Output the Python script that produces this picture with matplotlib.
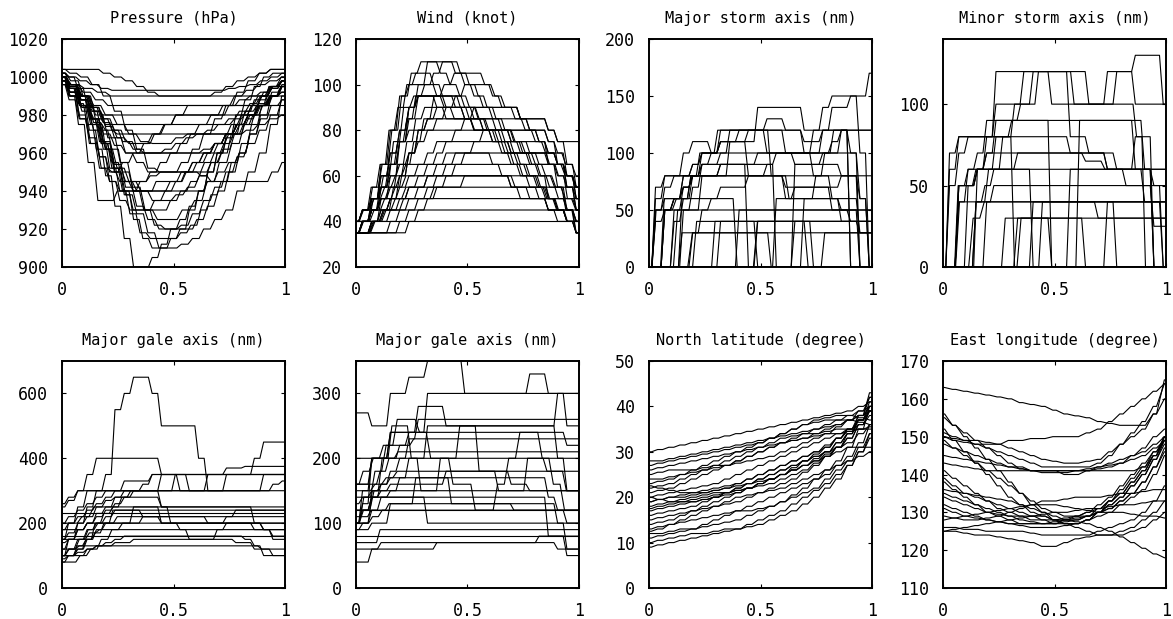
import numpy as np
import matplotlib
matplotlib.use("Agg")
import matplotlib.pyplot as plt

# ---------------------------------------------------------------- data
# Each typhoon record is sampled at regular reports over a lifetime
# normalised to 0..1; values are the reported (quantised) figures.

PRESSURE = [
    [1002,1000,994,985,975,962,950,938,925,915,910,910,915,920,930,940,950,960,970,980,988,995,1000,1002,1002],
    [1000,990,975,955,935,935,940,940,940,940,945,945,945,950,950,955,960,965,970,975,980,985,990,995],
    [998,994,986,975,962,948,932,915,900,900,905,912,920,925,932,940,950,960,968,975,982,988,992,995,995],
    [1004,1004,1004,1004,1002,1000,998,995,992,990,990,990,990,990,992,995,998,1000,1002,1004,1004],
    [1000,996,990,984,978,972,966,960,960,960,960,960,960,962,965,970,975,980,988,995,998],
    [996,990,984,978,975,975,975,975,975,975,975,975,975,975,975,978,982,986,990,995],
    [1000,995,988,978,965,952,940,930,930,935,940,945,950,955,960,965,970,975,980,985,990,995],
    [1000,996,994,992,990,990,990,990,990,990,990,990,990,990,990,990,990,990],
    [998,992,985,975,965,955,945,940,940,940,940,940,940,940,945,950,955,960,970,978,985,988],
    [1000,994,985,972,958,945,935,930,930,930,930,935,940,945,950,955,960,970,980,985,990,995,998],
    [1000,996,990,984,976,968,960,955,950,950,950,950,955,960,965,970,975,980,985,990,992],
    [1002,996,988,982,980,980,980,980,980,980,980,980,980,980,980,980,980,980,980,980,980],
    [1000,996,992,988,985,985,985,985,985,985,985,985,985,985,985,985,985,985,985],
    [998,994,988,978,966,952,940,928,918,915,915,915,918,922,930,938,945,955,965,975,985,992,996],
    [1000,996,990,984,978,972,966,962,960,960,962,965,968,970,972,975,978,982,986,990,994,998],
    [1004,1002,1000,996,990,982,972,962,952,950,950,955,962,970,978,985,992,998,1002,1004,1004],
    [998,992,984,976,972,970,970,970,970,970,970,970,970,970,970,970,972,975,978,980],
    [1000,992,980,965,952,945,940,940,945,948,950,950,950,950,948,945,945,945,945,945,945,950,955],
    [1000,996,990,982,972,962,950,940,930,922,920,920,920,925,932,940,950,960,970,980,990,995],
    [996,990,982,972,962,952,945,940,935,935,938,942,948,955,962,970,978,985,990,995],
    [1002,1000,998,996,994,993,993,993,993,993,993,993,993,993,993,993,994,995,996,998,1000,1002],
    [1000,995,988,978,966,954,942,932,925,920,920,922,928,935,942,950,958,965,972,980,988],
    [1000,995,988,978,965,952,945,940,940,940,945,950,955,960,965,970,975,980,985,990,992],
    [998,992,985,978,970,964,960,960,960,960,960,960,960,960,965,970,975,980,985,990,995],
    [1000,996,990,982,974,968,965,965,970,975,980,985,985,985,985,985,985,990,995,998],
    [996,988,978,968,958,950,945,945,945,950,955,960,965,970,970,970,970,975,980,985,990,994,998],
    [1002,998,990,980,968,955,942,930,925,925,930,935,945,955,965,975,985,995,1000],
    [1000,990,978,965,952,950,955,960,965,970,975,980,980,980,980,980,985,988,990,992,995,998],
    [998,994,990,985,980,975,970,966,965,965,968,970,975,980,985,990,993,996,998,1000],
    [1000,994,985,975,962,950,938,928,918,910,910,912,915,920,925,930,940,950,960,975,990],
]

WIND = [
    [35,40,50,65,80,95,100,100,100,95,95,90,85,80,80,80,80,75,75,70,70,65,60,55,50],
    [35,35,40,50,60,75,90,100,110,110,110,105,100,95,90,85,80,75,70,65,60,50,45,40,35],
    [40,45,55,65,80,95,105,110,110,105,100,95,90,85,80,75,70,65,60,55,50,45,45,40],
    [35,40,50,60,75,90,95,95,95,90,85,85,80,80,80,80,75,70,65,60,55,45,35],
    [40,45,50,55,60,65,70,75,80,85,90,95,100,100,100,95,90,90,85,85,85,80,75,75,75],
    [35,40,45,45,50,50,55,55,60,60,65,70,70,70,70,65,60,55,55,50,50,45,40,40,40],
    [40,40,40,40,40,40,40,40,40,40,40,40,40,40,40,40,40,40,40],
    [35,35,40,45,45,45,45,45,45,45,45,45,45,45,45,45,45,45,45,45,45],
    [35,40,45,50,50,50,50,50,50,50,50,50,50,50,50,50,50,50,50,50,50,50,50,45,40],
    [35,35,40,45,50,55,55,55,55,55,55,55,55,55,55,55,55,55,55,55,55,55],
    [40,45,50,55,60,65,65,65,65,65,65,65,65,65,65,65,65,65,65,65,60,55],
    [35,35,35,35,40,45,50,55,60,65,70,70,70,70,70,70,70,70,70,70,70,70,65,60,50],
    [35,40,45,55,65,75,80,80,80,80,80,80,80,80,80,80,80,80,80,80,75,70,65,55,45],
    [35,35,40,45,50,60,70,80,85,90,90,90,90,90,90,90,90,90,85,80,75,65,55,45,35],
    [40,45,50,60,70,80,90,95,95,95,95,95,90,85,80,75,70,65,60,55,50,45,45,40,40],
    [35,35,40,45,55,65,75,85,95,100,105,105,105,100,95,90,85,80,75,70,70,65,60],
    [35,40,45,50,55,60,60,60,60,60,60,60,60,60,60,60,60,60,60,55,50,45],
    [40,40,45,50,55,60,70,80,85,85,85,85,85,85,85,85,85,85,85,85,85,80,75,65,55],
    [35,35,40,45,50,55,60,65,70,75,75,75,75,75,75,75,75,75,75,75,75,70,65,60,55],
    [35,40,45,55,65,75,85,95,100,105,110,110,105,100,95,90,85,80,75,70,65,60,55,50,45,40],
    [40,45,50,55,65,75,85,95,95,95,90,90,85,85,80,80,80,80,80,80,80,75,65,55,45],
    [35,40,45,50,55,65,75,85,90,90,90,90,90,90,85,85,80,75,70,70,70,70,65,60,50,45],
    [35,35,35,35,35,40,45,50,55,60,60,60,60,60,60,60,60,55,50,50,50,45,45,40,35],
    [40,45,55,65,80,90,100,105,105,100,95,95,90,85,85,80,75,70,65,60,60,55,50,45,40,40],
    [35,35,40,40,45,50,55,60,65,70,75,80,85,90,90,90,90,90,85,80,80,75,70,60,50],
    [35,35,35,35,35,35,40,45,50,55,60,65,70,75,80,80,75,70,65,60,55,50,45,40,35],
    [40,40,40,45,45,50,50,50,55,55,55,60,60,60,60,60,55,55,55,50,50,50,50],
    [35,40,50,60,70,80,90,95,95,90,85,85,85,80,80,75,75,70,70,70,65,65,65,60,55],
]

STORM_MAJOR = [
    [0,50,70,80,100,110,110,100,100,120,120,120,120,130,130,120,120,100,100,120,140,140,150,150,170],
    [0,0,50,60,80,90,100,100,120,120,120,120,120,100,100,100,100,100,100,100,100,120,120,120,120],
    [0,0,0,50,50,50,50,50,50,50,50,50,50,50,50,50,50,50,50,50,50,50],
    [0,0,60,60,60,80,80,80,80,80,80,80,80,80,80,80,80,80,80,80,80,80,80,80,80,80],
    [0,0,0,0,30,30,30,30,30,30,30,30,30,30,30,30,30,30,30,30],
    [0,0,50,60,70,80,90,90,90,90,90,90,90,90,0,0,90,90,90,90,90,80,80,60,0],
    [0,0,0,0,0,0,0,0,40,40,40,40,40,40,40,40,40,40,40,40,40,40,40,40,40,40,40],
    [0,70,80,80,80,80,80,80,80,80,80,80,80,80,80,70,70,70,70,70,70,80,80,0,0],
    [0,0,0,40,60,80,100,100,110,110,110,120,120,120,120,120,120,110,110,120,120,120,0,0,0],
    [0,0,0,0,0,30,50,60,70,70,70,80,80,90,100,100,100,100,100,100,100,100,100,60,0],
    [0,0,0,0,0,0,0,0,0,0,0,0,0,0,0,0,0,0,0,0],
    [0,50,50,60,60,60,60,60,60,0,0,40,40,40,40,40,40,40,40,40,40,40,40],
    [0,0,0,0,60,80,100,100,120,120,120,120,120,120,80,80,60,60,60,80,100,120,120,120,120,120],
    [0,0,0,0,0,0,0,0,0,0,50,50,50,50,50,50,50,50,50,50,50,50,50,50,50],
    [0,60,80,80,80,80,90,90,100,100,100,100,100,100,100,100,100,100,120,120,120,120,100,0,0],
    [0,0,0,0,0,40,40,40,40,40,40,40,40,40,40,40,0,0,0,0,0,0,0],
    [0,0,50,50,70,80,80,80,90,90,90,0,0,0,60,60,70,70,70,70,50,50,40,40,40],
    [0,0,0,0,0,0,0,0,40,40,40,40,0,0,0,0,40,40,40,40,40,40,40,30,30],
    [0,0,0,50,50,70,90,100,110,110,110,110,140,140,140,140,140,120,120,140,150,150,150,100,0],
    [0,0,0,0,0,0,0,0,0,0,0,0,0,0,0,0,0,60,60,60,60,60,60,30,30],
    [0,40,50,60,80,90,100,100,110,110,120,120,120,120,120,100,90,90,90,100,110,120,0,0,0],
    [0,0,0,0,0,0,0,0,0,0,0,0,40,40,40,40,40,40,0,0,0,0,0,0,0],
    [0,0,0,0,30,30,30,30,30,30,30,30,30,30,0,0,0,0,0,0,30,30,30,30,30,30],
    [0,50,60,60,70,80,80,80,80,110,110,80,80,80,80,60,60,60,60,60,60,40,40,40,40],
    [0,0,0,0,50,50,80,80,90,90,90,90,100,100,100,100,100,100,80,80,60,50,50,0,0],
]

STORM_MINOR = [
    [0,50,70,80,80,80,120,120,120,120,120,120,100,100,100,100,100,100,100,120,120,130,130,130,100],
    [0,0,40,60,70,90,90,90,90,90,90,90,90,90,90,90,90,90,90,90,90,90,60,0,0],
    [0,0,0,30,40,40,40,40,40,40,40,40,40,40,40,40,40,40,40,40,40],
    [0,0,50,50,60,60,60,60,60,60,60,60,60,60,60,60,60,60,60,60,60,60,60,60,60,60],
    [0,0,0,0,0,40,40,40,40,40,40,40,40,40,40,40,40,30,30,30,30,30,30,30,30],
    [0,60,80,80,80,80,80,80,80,80,80,80,80,80,70,70,70,70,60,60,60,80,80,0,0],
    [0,0,0,50,60,80,100,100,100,120,120,120,120,120,120,120,100,100,120,120,120,100,100,100,100],
    [0,0,0,0,0,0,0,0,30,30,30,30,30,30,30,30,30,30,30,30,30,30,30],
    [0,0,50,60,60,70,70,70,70,70,70,70,70,70,70,70,70,70,70,60,60,60,60,50,0],
    [0,0,0,0,40,40,50,50,50,50,50,50,50,50,50,50,50,50,50,50,50,50,50,50,50,50],
    [0,0,0,0,0,0,0,0,0,0,0,0,0,0,0,0,0,0,0,0],
    [0,0,0,0,60,70,90,90,90,90,90,90,0,0,0,90,90,90,90,90,90,60,60,0,0],
    [0,70,80,80,80,80,80,80,0,0,0,40,40,40,40,40,40,40,40,40,40,40,40,40,40],
    [0,0,40,40,40,60,60,60,70,70,70,70,70,70,70,65,65,60,60,60,60,60,60,60],
    [0,0,0,0,0,0,0,30,30,30,30,30,0,0,0,0,0,0,0,0,0,0,0,0,0],
    [0,0,50,50,60,60,80,80,100,100,120,120,120,120,80,80,70,70,60,60,50,50,50,25,25],
    [0,0,0,0,0,0,0,0,0,0,40,40,40,40,40,40,40,40,40,0,0,0,0,0,0],
    [0,0,0,0,0,0,0,0,0,0,0,0,0,0,0,0,0,0,40,40,40,40,40,40,40],
    [0,0,50,50,60,60,60,60,60,60,0,0,0,0,60,60,60,60,60,60,60,60,40,40,0],
    [0,0,0,0,0,0,0,0,30,30,30,30,30,30,30,0,0,0,0,0,0,0,0,0],
    [0,0,0,0,40,50,60,80,90,100,100,120,120,120,120,100,100,100,100,100,100,100,80,0,0,0],
]

GALE_MAJOR_A = [
    [100,150,200,250,300,350,550,600,650,650,600,500,500,500,500,400,300,300,300,300,300,300,300,300,300],
    [250,270,300,350,400,400,400,400,400,400,400,350,350,350,300,300,300,300,350,350,350,400,450,450,450],
    [200,200,220,250,250,250,250,250,250,250,250,250,250,250,250,250,250,250,250,250],
    [150,200,250,300,300,300,300,300,300,300,300,300,300,300,300,300,300,300,300,300,300,300,350,350,350],
    [100,100,120,150,200,230,250,280,300,300,300,300,300,350,350,350,350,350,350,350,350,350,350,350,350,350],
    [80,80,100,120,150,180,200,200,200,200,200,200,200,200,200,200,200,200,200,200,200,200],
    [150,150,150,180,200,200,220,220,220,220,220,220,220,220,220,220,220,220,220,220,220,220,220,220],
    [120,150,180,200,230,250,280,280,280,280,280,250,250,250,250,250,250,250,250,250,250,200,180,150,150],
    [100,100,100,120,130,130,140,140,150,150,150,150,150,150,150,150,150,150,150,140,140,120,120,100,100],
    [200,220,240,260,280,300,300,330,330,330,350,350,350,350,350,350,350,350,370,370,375,375,375,375,375],
    [80,100,120,150,180,200,200,200,250,250,250,200,200,180,150,150,150,180,200,200,200,200,180,160,160],
    [160,160,160,160,160,160,160,160,160,160,160,160,160,160,160,160,160,160,160],
    [230,230,230,230,230,230,230,230,230,230,230,230,230,230,230,230,230,230,230,230,230],
    [90,100,130,150,170,200,240,240,240,240,240,240,240,240,240,240,240,240,240,240,240,240,240,240,240,240],
    [100,120,150,170,180,180,180,180,180,180,180,180,180,180,180,180,180,180,180,180,180,180,180],
    [260,280,300,300,300,300,300,300,300,300,300,300,300,300,300,300,300,300,300,300,300,300,300,320,330],
    [120,120,130,130,130,130,130,130,130,130,130,130,130,130,130,130,130,130,130,130,120,120,120],
    [180,200,220,240,260,280,300,300,300,300,300,250,200,200,200,200,200,200,200,200,200,200,200,200,200],
    [100,100,110,120,130,140,150,160,160,160,160,160,160,160,160,160,160,160,160,160,150,130,100,100,100],
    [140,150,180,200,220,240,260,280,300,320,350,350,350,350,350,350,350,350,350,350,350,350,350,350,350],
    [150,170,200,220,250,270,280,300,300,300,300,350,350,300,300,300,350,350,350,350,350,350,350,350,350],
    [100,120,150,180,200,220,240,240,240,220,220,200,200,200,200,200,200,200,220,240,240,240,240,240,240],
    [180,180,180,200,200,200,200,200,200,220,220,220,220,220,220,220,200,200,200,200,200,180,180,180,180],
]

GALE_MAJOR_B = [
    [270,270,250,250,300,300,325,325,350,350,350,350,300,300,300,300,300,300,300,300,300,300,300,300,300],
    [40,40,60,60,60,60,60,60,60,70,70,70,70,70,70,70,70,70,70,70,80,80,80,80,80],
    [100,150,200,200,240,240,240,240,300,300,300,300,300,300,300,300,300,300,300,330,330,300,300,250,250],
    [100,120,150,150,150,150,150,150,150,150,150,150,150,150,150,150,150,150,150,150,150,150],
    [80,80,80,80,80,80,80,80,80,80,80,80,80,80,80,80,80,80,80,80],
    [120,120,120,120,120,120,120,120,120,120,120,120,120,120,120,120,120,120,120,120,120,120,120],
    [160,160,160,180,200,210,210,210,210,210,210,210,210,210,210,210,210,210,210,210,210,210,210,210,210,210],
    [90,90,100,100,130,130,130,130,130,130,130,130,130,130,130,130,130,130,130,130,130,130,100,100,100],
    [60,60,60,70,70,70,70,70,70,70,70,70,70,70,70,70,70,70,70,70,70,70,60,60,60],
    [100,130,200,200,200,220,240,240,240,240,240,240,240,240,240,240,240,240,240,240,240,240,240,220,220],
    [150,150,160,170,180,180,180,180,180,180,180,180,180,180,180,180,180,180,180,180,180],
    [100,100,120,140,150,170,200,200,250,250,250,250,250,250,250,250,250,250,250,250,250,250,200,150,150],
    [130,140,150,160,170,170,170,170,170,170,170,170,170,170,170,170,170,170,170,170,170,140,120,100,100],
    [90,100,110,120,120,120,120,120,120,120,120,120,120,120,120,120,120,120,120,120,120,120,120,120],
    [160,180,200,200,200,200,200,200,200,200,200,200,200,200,200,200,200,200,200,200,200,200,200],
    [70,70,70,90,90,90,90,90,90,90,90,90,90,90,90,90,90,90,90,90,90,90,90,90,90,90],
    [100,100,140,140,140,140,140,140,140,140,140,140,140,140,140,140,140,140,140,140,140,80,80,50,50],
    [100,120,140,160,180,200,230,260,260,260,260,260,260,260,260,260,260,260,260,260,260,260,260,260,260],
    [140,140,140,140,140,140,140,140,100,100,100,100,100,100,100,100,100,100,100,100,100,100,100,60,60],
    [200,200,200,220,220,220,230,230,230,230,230,230,230,230,230,230,230,230,230,230,230,230,230],
    [160,160,200,200,240,240,240,280,280,280,250,250,250,250,250,250,250,250,250,250,250,250,300,300,300],
    [120,120,140,150,160,160,160,160,160,160,180,180,180,180,180,180,180,160,160,150,150,150,150,150,150],
    [110,110,120,120,130,130,130,170,170,170,170,130,130,130,130,130,130,130,120,120,120,120,120,120,120,120],
    [120,120,150,200,250,250,200,150,150,200,200,250,250,180,180,150,150,150,200,200,180,180,150,150],
    [100,140,180,220,260,260,240,200,200,160,160,120,120,160,200,240,240,200,160,120,120],
]

LATITUDE = [
    [30,30.5,31,31.5,32,32.5,33,33.5,34,34.5,35,35.5,36,36.5,37,37.5,38,38.5,39,40,41],
    [9,9.5,10,10.5,11,11.5,12,12.5,13,14,15,16,17,18.5,20,21.5,23,25,27,30,33],
    [12,12,12.5,13,13,13.5,14,14.5,15,16,17,18,19,20.5,22,24,26,28,31,35,40],
    [17,17.5,18,18.5,19,19.5,20,21,22,23,24,25,26,27,28,29,30,32,34,37,40],
    [22,22.5,23,24,25,26,27,28,29,30,31,32,33,33.5,34,34,34.5,35,35,35,35],
    [25,25.5,26,26,26,26.5,27,27,28,29,30,31,32,33,34,35,36,37,38,39,40],
    [15,15.5,16,16.5,17,17.5,18,18.5,19,20,21,22,23,24,25.5,27,29,31,34,38,43],
    [19,19.5,20,20.5,21,21.5,22,22.5,23,24,25,26,27,28,29,30,31,33,35,38,42],
    [11,11.5,12,12.5,13,14,15,16,17,18,19,20,21,22,23,24,25,27,29,32,36],
    [23,23.5,24,25,26,27,28,29,30,31,32,33,34,35,36,37,37.5,38,38,37.5,37],
    [27,27.5,28,28.5,29,29.5,30,30.5,31,31.5,32,33,34,35,36,36.5,37,37,37,36.5,36],
    [18,18.5,19,19.5,20,20.5,21,21,21.5,22,22.5,23,24,25,26,27.5,29,31,33,36,39],
    [13,13.5,14,14.5,15,15.5,16,16.5,17,17,17.5,18,19,20,21,22,24,26,28,31,34],
    [20,20.5,21,21.5,22,22.5,23,24,25,26,27,28,29,30,31,32,33,34,35,37,39],
    [16,16.5,17,17.5,18,19,20,21,22,23,24,25,26,27,28,29,30,31,32,34,36],
    [24,24,24.5,25,25.5,26,26.5,27,27.5,28,28.5,29,30,31,32,33,34,35.5,37,39,42],
    [10,10.5,11,11.5,12,12,12.5,13,13,13.5,14,15,16,17,18.5,20,22,24,27,30,34],
    [21,21.5,22,23,24,25,26,27,28,29,30,31,32,32.5,33,33.5,34,34,34.5,35,35.5],
    [14,14.5,15,16,17,18,19,20,21,22,23,24,25,26,27,28,29,30,31,31,31],
    [28,28,28.5,29,29.5,30,30.5,31,31.5,32,32.5,33,33.5,34,34.5,35,35.5,36,37,38,40],
    [17.5,18,18.5,19,19.5,20,20.5,21,21.5,22,23,24,25,26,27,28,29.5,31,33,36,39],
    [12.5,13,14,15,16,17,18,19,20,20.5,21,21.5,22,23,24,25,26,27,28,29,30],
    [19,19.5,20,20,20.5,21,21.5,22,22.5,23,23.5,24,25,26,27,28.5,30,32,34,37,41],
    [26,26.5,27,27.5,28,28.5,29,29.5,30,30.5,31,31.5,32,32.5,33,34,35,36,37,38,39],
    [20,19.5,19,19,19,19.5,20,20.5,21,22,23,24,25,26.5,28,29.5,31,33,35,37,39],
    [22.5,22,21.5,21,21,21,21.5,22,23,24,25,26,27,28,29,30,31.5,33,34.5,36,38],
]

LONGITUDE = [
    [163,162.5,162,161.5,161,160.5,160,159,158.5,158,157,156,155.5,155,154,153.5,153,153,153,156,165],
    [156,153,150,147,144,141,138,135,132,130,128,127,127,128,130,133,136,139,142,146,150],
    [151,150,149,148,147,146,145,144,143,142,142,142,142,142,143,145,148,151,154,158,164],
    [138,136,134,132,130,129,128,127,127,127,127,128,128,129,130,132,134,137,140,144,148],
    [125,125,124.5,124,124,123.5,123,122.5,122,121,121,122,123,123.5,124,124,125,126,128,130,133],
    [136,135.5,135,134.5,134,133.5,133,132,131,130,129,128,127.5,127,126,125,123.5,122,120.5,119,118],
    [143,142.5,142,141.5,141,141,141,141,141,141,141,141,141,141,141.5,142,143,145,147,150,152],
    [148,147,146,145,144,143,142,142,141,141,141,140,140,141,142,143,144,145,146,148,150],
    [131,130,129,128.5,128,127.5,127,126.5,126,126,126,126.5,127,128,130,132,134,137,140,144,149],
    [129,128.5,128,128,128.5,129,130,131,132,133,133,133.5,134,134,134,134.5,135,135,135.5,136,136],
    [135,134,133,132,131,130,129,128,127.5,127,127,127.5,128,129,131,133,135,138,141,145,150],
    [150,149.5,149,149,148.5,148,147,146,145,144,143.5,143,143,143.5,144,146,148,150,152,156,160],
    [126,126,125.5,125.5,125,125,125,125,124.5,124,124,124,124,124,125,126,127,128,130,133,137],
    [141,139,137,135,133,131,130,129,128,128,128,128.5,129,130,131,133,135,138,141,145,149],
    [125,125.5,126,126.5,127,127.5,128,128.5,129,129,128,127,126,125,124,124,124,125,126,128,130],
    [134,133,132,131,130,129.5,129,129,129,129.5,130,130,130.5,131,131,131.5,132,132,132.5,133,133],
    [155,153,151,149,147,145,143,141.5,141,140.5,140.5,140.5,141,141.5,142,142.5,143,144,145,147,149],
    [132,131,130,129,128,127.5,127,127,127,127,127.5,128,128.5,129,130,131,133,135,138,142,147],
    [145,144.5,144,143.5,143,142.5,142,141.5,141,141,141,141,141,141,141,141,141,141,142,145,150],
    [128,128.5,129,129.5,130,130.5,131,131.5,132,132,132,131.5,131,130.5,130,130,130,129.5,129,129,128.5],
    [139,137,135,134,133,132,131,130,129,128,127,127,127,128,129,130,132,134,136,140,145],
    [150,149,148.5,148,148,148,149,149,149.5,149.5,150,150,150,151,152,154,156,158,160,162,164],
    [152,149,146,143,140,137,134,132,130,129,128,128,129,130,132,134,137,140,143,146,149],
    [149,147,145,143,141,139,137,135,133,131,130,129,129,129,130,131,133,135,138,142,146],
]

TITLES = [
    "Pressure (hPa)", "Wind (knot)", "Major storm axis (nm)", "Minor storm axis (nm)",
    "Major gale axis (nm)", "Major gale axis (nm)", "North latitude (degree)", "East longitude (degree)",
]
Y_LIMITS = [(900, 1020), (20, 120), (0, 200), (0, 140), (0, 700), (0, 350), (0, 50), (110, 170)]
Y_TICKS = [
    [900, 920, 940, 960, 980, 1000, 1020],
    [20, 40, 60, 80, 100, 120],
    [0, 50, 100, 150, 200],
    [0, 50, 100],
    [0, 200, 400, 600],
    [0, 100, 200, 300],
    [0, 10, 20, 30, 40, 50],
    [110, 120, 130, 140, 150, 160, 170],
]
X_TICKS = [0, 0.5, 1]
X_TICK_LABELS = ["0", "0.5", "1"]

PANELS = [PRESSURE, WIND, STORM_MAJOR, STORM_MINOR,
          GALE_MAJOR_A, GALE_MAJOR_B, LATITUDE, LONGITUDE]
# share of each report interval over which the reported value is held
HOLD = [0.6, 0.6, 0.6, 0.6, 0.6, 0.6, 0.45, 0.3]


def held_track(values, hold):
    """Report values held around each report time, ramping between reports."""
    v = np.asarray(values, dtype=float)
    t = np.linspace(0.0, 1.0, len(v))
    half = 0.5 * hold / (len(v) - 1)
    xs = np.column_stack([np.clip(t - half, 0, 1), np.clip(t + half, 0, 1)]).ravel()
    return xs, np.repeat(v, 2)


# ---------------------------------------------------------------- figure
plt.rcParams["font.family"] = ["DejaVu Sans Mono"]
FS = 12

W, H = 1173, 619
fig = plt.figure(figsize=(W / 100, H / 100), dpi=100)

col_left = [62, 356, 649, 943]
row_box = [(39, 267), (361, 588)]
ax_w = 223

for i, series in enumerate(PANELS):
    r, c = divmod(i, 4)
    top, bot = row_box[r]
    ax = fig.add_axes([col_left[c] / W, 1 - bot / H, ax_w / W, (bot - top) / H])
    for v in series:
        xs, ys = held_track(v, HOLD[i])
        ax.plot(xs, ys, color="black", lw=0.8)
    ax.set_xlim(0, 1)
    ax.set_ylim(*Y_LIMITS[i])
    ax.set_yticks(Y_TICKS[i])
    ax.set_xticks(X_TICKS)
    ax.set_xticklabels(X_TICK_LABELS)
    ax.tick_params(direction="in", length=3, width=0.8, top=True, right=True,
                   labelsize=FS, pad=10, colors="black")
    for s in ax.spines.values():
        s.set_linewidth(1.4)
    ax.text(0.5, 1 + 21 / (bot - top), TITLES[i], transform=ax.transAxes,
            ha="center", va="center", fontsize=11)

fig.savefig("out.png", dpi=100, facecolor="white")
